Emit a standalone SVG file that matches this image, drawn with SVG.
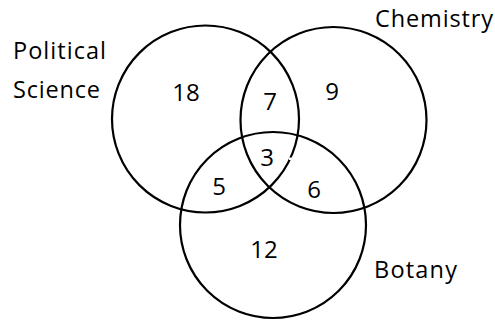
<svg xmlns="http://www.w3.org/2000/svg" width="495" height="320" viewBox="0 0 495 320">
<style>
.c{fill:none;stroke:#000;stroke-width:2.2}
.t{font-family:"Open Sans","Noto Sans","Liberation Sans",sans-serif;font-size:23.5px;fill:#000}
.n{text-anchor:middle;font-size:24px}
</style>
<rect width="495" height="320" fill="#fff"/>
<g id="political-science">
<circle class="c" cx="205.5" cy="119" r="93.5"/>
<text class="t" x="13" y="59" textLength="93" lengthAdjust="spacing">Political</text>
<text class="t" x="13" y="98" textLength="87" lengthAdjust="spacing">Science</text>
</g>
<g id="chemistry">
<circle class="c" cx="333.5" cy="120" r="93"/>
<text class="t" x="375" y="27" textLength="118" lengthAdjust="spacing">Chemistry</text>
</g>
<g id="botany">
<circle class="c" cx="273" cy="225" r="93"/>
<text class="t" x="374" y="278" textLength="83" lengthAdjust="spacing">Botany</text>
</g>
<rect x="289" y="157.5" width="4" height="2.5" fill="#fff"/>
<g id="regions">
<text class="t n" x="186" y="101">18</text>
<text class="t n" x="270" y="110">7</text>
<text class="t n" x="332" y="100">9</text>
<text class="t n" x="267" y="166">3</text>
<text class="t n" x="219" y="195">5</text>
<text class="t n" x="314" y="198">6</text>
<text class="t n" x="264" y="258">12</text>
</g>
</svg>
